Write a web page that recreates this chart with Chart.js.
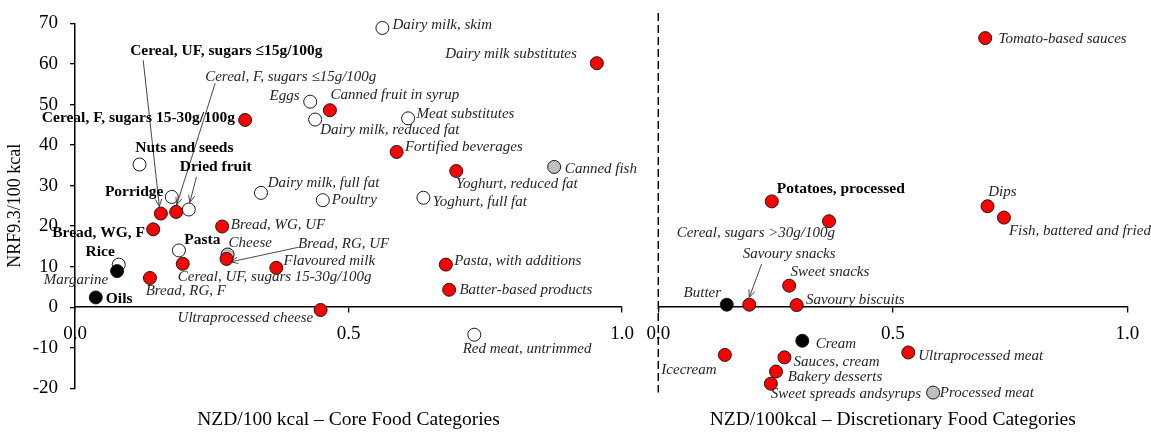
<!DOCTYPE html>
<html lang="en">
<head>
<meta charset="UTF-8" />
<title>NRF9.3 per 100 kcal vs price</title>
<script src="https://cdn.jsdelivr.net/npm/chart.js@4.4.1/dist/chart.umd.min.js"></script>
<style>
  body { margin: 0; background: #fff; }
  #core { position: absolute; left: 0; top: 0; }
  #disc { position: absolute; left: 630px; top: 0; }
</style>
</head>
<body>
<canvas id="core" width="650" height="432"></canvas>
<canvas id="disc" width="521" height="432"></canvas>

<script>
// core food categories
const coreNames = [
  "Dairy milk, skim", "Dairy milk substitutes", "Cereal, UF, sugars ≤15g/100g",
  "Cereal, F, sugars ≤15g/100g", "Eggs", "Canned fruit in syrup", "Dairy milk, reduced fat",
  "Meat substitutes", "Fortified beverages", "Canned fish", "Yoghurt, reduced fat",
  "Yoghurt, full fat", "Cereal, F, sugars 15-30g/100g", "Nuts and seeds", "Dried fruit",
  "Porridge", "Dairy milk, full fat", "Poultry", "Bread, WG, F", "Bread, WG, UF", "Pasta",
  "Cheese", "Bread, RG, UF", "Rice", "Flavoured milk", "Margarine",
  "Cereal, UF, sugars 15-30g/100g", "Bread, RG, F", "Oils", "Ultraprocessed cheese",
  "Pasta, with additions", "Batter-based products", "Red meat, untrimmed"
];
const coreNzd = [
  0.562, 0.954, 0.157, 0.185, 0.430, 0.466, 0.439, 0.609, 0.588, 0.876, 0.697,
  0.637, 0.311, 0.118, 0.208, 0.177, 0.340, 0.453, 0.143, 0.269, 0.190,
  0.279, 0.277, 0.080, 0.368, 0.077, 0.197, 0.137, 0.038, 0.449,
  0.678, 0.684, 0.730
];
const coreNrf = [
  68.9, 60.2, 23.1, 23.5, 50.7, 48.6, 46.3, 46.6, 38.3, 34.6, 33.6,
  27.0, 46.2, 35.2, 24.1, 27.2, 28.2, 26.4, 19.2, 19.9, 14.0,
  13.0, 11.9, 10.5, 9.7, 8.9, 10.7, 7.2, 2.4, -0.7,
  10.5, 4.3, -6.8
];
const coreGroup = [
  "white", "red", "red", "red", "white", "red", "white", "white", "red", "grey", "red",
  "white", "red", "white", "white", "white", "white", "white", "red", "red", "white",
  "grey", "red", "white", "red", "black", "red", "red", "black", "red",
  "red", "red", "white"
];

// discretionary food categories
const discNames = [
  "Tomato-based sauces", "Potatoes, processed", "Dips", "Fish, battered and fried",
  "Cereal, sugars >30g/100g", "Savoury snacks", "Sweet snacks", "Butter", "Savoury biscuits",
  "Cream", "Icecream", "Sauces, cream", "Bakery desserts", "Sweet spreads andsyrups",
  "Ultraprocessed meat", "Processed meat"
];
const discNzd = [0.697, 0.242, 0.702, 0.737, 0.364, 0.194, 0.279, 0.146, 0.295, 0.307, 0.142, 0.269, 0.251, 0.240, 0.533, 0.586];
const discNrf = [66.4, 26.1, 24.9, 22.1, 21.2, 0.6, 5.3, 0.6, 0.5, -8.3, -11.8, -12.4, -15.9, -18.9, -11.2, -21.1];
const discGroup = ["red", "red", "red", "red", "red", "red", "red", "black", "red", "black", "red", "red", "red", "red", "red", "grey"];

const xTicks = [0, 0.5, 1];
const yTicks = [-20, -10, 0, 10, 20, 30, 40, 50, 60, 70];

const serif = "'Liberation Serif', 'Times New Roman', serif";
const fills = { white: "#ffffff", grey: "#bfbfbf", black: "#000000", red: "#ff0000" };
// chart.js paints dataset 0 last, so red ends up on top
const drawOrder = ["red", "black", "grey", "white"];

const boldLabels = [
  "Cereal, UF, sugars ≤15g/100g", "Cereal, F, sugars 15-30g/100g", "Nuts and seeds",
  "Dried fruit", "Porridge", "Bread, WG, F", "Pasta", "Rice", "Oils", "Potatoes, processed"
];

// where each label sits, in px from its marker: dx, dy, align, optional arrow [x0,y0,x1,y1]
const labelPos = {
  "Dairy milk, skim": [10, -3, "l"],
  "Dairy milk substitutes": [-20, -9, "r"],
  "Cereal, UF, sugars ≤15g/100g": [-30.7, -162.6, "l", [-17.7, -153.3, -1.5, -7]],
  "Cereal, F, sugars ≤15g/100g": [29, -135, "l", [39, -128.7, 0.5, -7]],
  "Eggs": [-10.7, -5.7, "r"],
  "Canned fruit in syrup": [0.7, -15, "l"],
  "Dairy milk, reduced fat": [5, 10.7, "l"],
  "Meat substitutes": [8.4, -4.3, "l"],
  "Fortified beverages": [8.3, -4.4, "l"],
  "Canned fish": [10.7, 2.6, "l"],
  "Yoghurt, reduced fat": [-0.3, 13.3, "l"],
  "Yoghurt, full fat": [9.4, 4.4, "l"],
  "Cereal, F, sugars 15-30g/100g": [-10, -1.7, "r"],
  "Nuts and seeds": [-4.3, -16.6, "l"],
  "Dried fruit": [-9, -42.6, "l", [7.7, -32.6, 1, -7]],
  "Porridge": [-8.4, -5, "r"],
  "Dairy milk, full fat": [6.7, -10, "l"],
  "Poultry": [9, 0, "l"],
  "Bread, WG, F": [-8.3, 3.3, "r"],
  "Bread, WG, UF": [8.7, -1, "l"],
  "Pasta": [5.3, -10.7, "l"],
  "Cheese": [1, -11.3, "l"],
  "Bread, RG, UF": [71.6, -15, "l", [71.6, -11.6, 4, 3]],
  "Rice": [-4, -12.3, "r"],
  "Flavoured milk": [7.3, -6.3, "l"],
  "Margarine": [-9, 9.3, "r"],
  "Cereal, UF, sugars 15-30g/100g": [-5, 13.4, "l"],
  "Bread, RG, F": [-4.3, 13.4, "l"],
  "Oils": [10, 1.6, "l"],
  "Ultraprocessed cheese": [-7.4, 8, "r"],
  "Pasta, with additions": [8.3, -4, "l"],
  "Batter-based products": [10.3, 0.7, "l"],
  "Red meat, untrimmed": [-11.6, 14.3, "l"],
  "Tomato-based sauces": [13.3, 1, "l"],
  "Potatoes, processed": [5, -12.7, "l"],
  "Dips": [0.6, -14.3, "l"],
  "Fish, battered and fried": [5, 13.4, "l"],
  "Cereal, sugars >30g/100g": [6, 12.3, "r"],
  "Savoury snacks": [-6.6, -50.7, "l", [12.4, -40.7, 0, -7.3]],
  "Sweet snacks": [1.4, -13.3, "l"],
  "Butter": [-5.7, -11.3, "r"],
  "Savoury biscuits": [9.3, -5.3, "l"],
  "Cream": [13.4, 3.3, "l"],
  "Icecream": [-8.3, 15, "r"],
  "Sauces, cream": [9, 4.3, "l"],
  "Bakery desserts": [11.7, 6, "l"],
  "Sweet spreads andsyrups": [0, 10.6, "l"],
  "Ultraprocessed meat": [10, 3.3, "l"],
  "Processed meat": [6.7, 0, "l"]
};

function buildDatasets(names, xs, ys, groups) {
  return drawOrder.map(function (g) {
    const pts = [];
    names.forEach(function (n, i) {
      if (groups[i] === g) pts.push({ x: xs[i], y: ys[i], name: n });
    });
    return {
      label: g,
      data: pts,
      backgroundColor: fills[g],
      borderColor: "#1a1a1a",
      borderWidth: 1,
      pointRadius: 6.5,
      clip: false
    };
  }).filter(function (d) { return d.data.length; });
}

// names beside the markers, plus the few arrows
const pointLabels = {
  id: "pointLabels",
  afterDatasetsDraw(chart) {
    const ctx = chart.ctx;
    ctx.save();
    chart.data.datasets.forEach(function (ds, di) {
      chart.getDatasetMeta(di).data.forEach(function (pt, i) {
        const name = ds.data[i].name;
        const p = labelPos[name];
        if (!p) return;
        const bold = boldLabels.includes(name);
        if (p[3]) {
          const a = p[3];
          const x0 = pt.x + a[0], y0 = pt.y + a[1], x1 = pt.x + a[2], y1 = pt.y + a[3];
          const ang = Math.atan2(y1 - y0, x1 - x0);
          ctx.strokeStyle = "#333";
          ctx.lineWidth = 0.9;
          ctx.beginPath();
          ctx.moveTo(x0, y0);
          ctx.lineTo(x1, y1);
          ctx.moveTo(x1 - 8 * Math.cos(ang - 0.4), y1 - 8 * Math.sin(ang - 0.4));
          ctx.lineTo(x1, y1);
          ctx.lineTo(x1 - 8 * Math.cos(ang + 0.4), y1 - 8 * Math.sin(ang + 0.4));
          ctx.stroke();
        }
        ctx.font = bold ? "bold 15.5px " + serif : "italic 15px " + serif;
        ctx.fillStyle = bold ? "#000" : "#262626";
        ctx.textAlign = p[2] === "r" ? "right" : "left";
        ctx.textBaseline = "middle";
        ctx.fillText(name, pt.x + p[0], pt.y + p[1]);
      });
    });
    ctx.restore();
  }
};

// dashed y axis of the discretionary panel
const dashedAxis = {
  id: "dashedAxis",
  beforeDatasetsDraw(chart) {
    const ctx = chart.ctx;
    const a = chart.chartArea;
    const x = chart.scales.x.getPixelForValue(0);
    ctx.save();
    ctx.strokeStyle = "#000";
    ctx.lineWidth = 1.5;
    ctx.setLineDash([8, 4]);
    ctx.beginPath();
    ctx.moveTo(x, a.top);
    ctx.lineTo(x, a.bottom);
    ctx.stroke();
    ctx.restore();
  }
};

function xScale() {
  return {
    type: "linear",
    position: { y: 0 },
    min: 0,
    max: 1,
    afterBuildTicks: function (s) { s.ticks = xTicks.map(function (v) { return { value: v }; }); },
    ticks: {
      callback: function (v) { return Number(v).toFixed(1); },
      color: "#000",
      font: { family: serif, size: 19 },
      padding: 10,
      maxRotation: 0
    },
    grid: { drawOnChartArea: false, tickLength: 5, color: "#000", lineWidth: 1.3 },
    border: { color: "#000", width: 1.5 }
  };
}

function xTitle(text, top) {
  return {
    display: true,
    position: "bottom",
    fullSize: false,
    text: text,
    color: "#000",
    font: { family: serif, size: 19.5, weight: "normal" },
    padding: { top: top, bottom: 0 }
  };
}

new Chart(document.getElementById("core"), {
  type: "scatter",
  data: { datasets: buildDatasets(coreNames, coreNzd, coreNrf, coreGroup) },
  options: {
    responsive: false,
    animation: false,
    events: [],
    layout: { padding: { left: 0, right: 28, top: 23.5, bottom: 0 } },
    plugins: {
      legend: { display: false },
      tooltip: { enabled: false },
      title: xTitle("NZD/100 kcal – Core Food Categories", 20.4)
    },
    scales: {
      x: xScale(),
      y: {
        min: -20,
        max: 70,
        afterBuildTicks: function (s) { s.ticks = yTicks.map(function (v) { return { value: v }; }); },
        ticks: { color: "#000", font: { family: serif, size: 19 }, padding: 12 },
        grid: { drawOnChartArea: false, tickLength: 5, color: "#000", lineWidth: 1.3 },
        border: { color: "#000", width: 1.5 },
        title: {
          display: true,
          text: "NRF9.3/100 kcal",
          color: "#000",
          font: { family: serif, size: 18 },
          padding: { top: 4, bottom: 0 }
        },
        afterFit: function (s) { s.width = 75; }
      }
    }
  },
  plugins: [pointLabels]
});

new Chart(document.getElementById("disc"), {
  type: "scatter",
  data: { datasets: buildDatasets(discNames, discNzd, discNrf, discGroup) },
  options: {
    responsive: false,
    animation: false,
    events: [],
    layout: { padding: { left: 28.3, right: 23.7, top: 13, bottom: 0 } },
    plugins: {
      legend: { display: false },
      tooltip: { enabled: false },
      title: xTitle("NZD/100kcal – Discretionary Food Categories", 16)
    },
    scales: {
      x: xScale(),
      y: {
        min: -21.1,
        max: 72.6,
        ticks: { display: false },
        grid: { display: false },
        border: { display: false },
        afterFit: function (s) { s.width = 0; }
      }
    }
  },
  plugins: [dashedAxis, pointLabels]
});
</script>
</body>
</html>
